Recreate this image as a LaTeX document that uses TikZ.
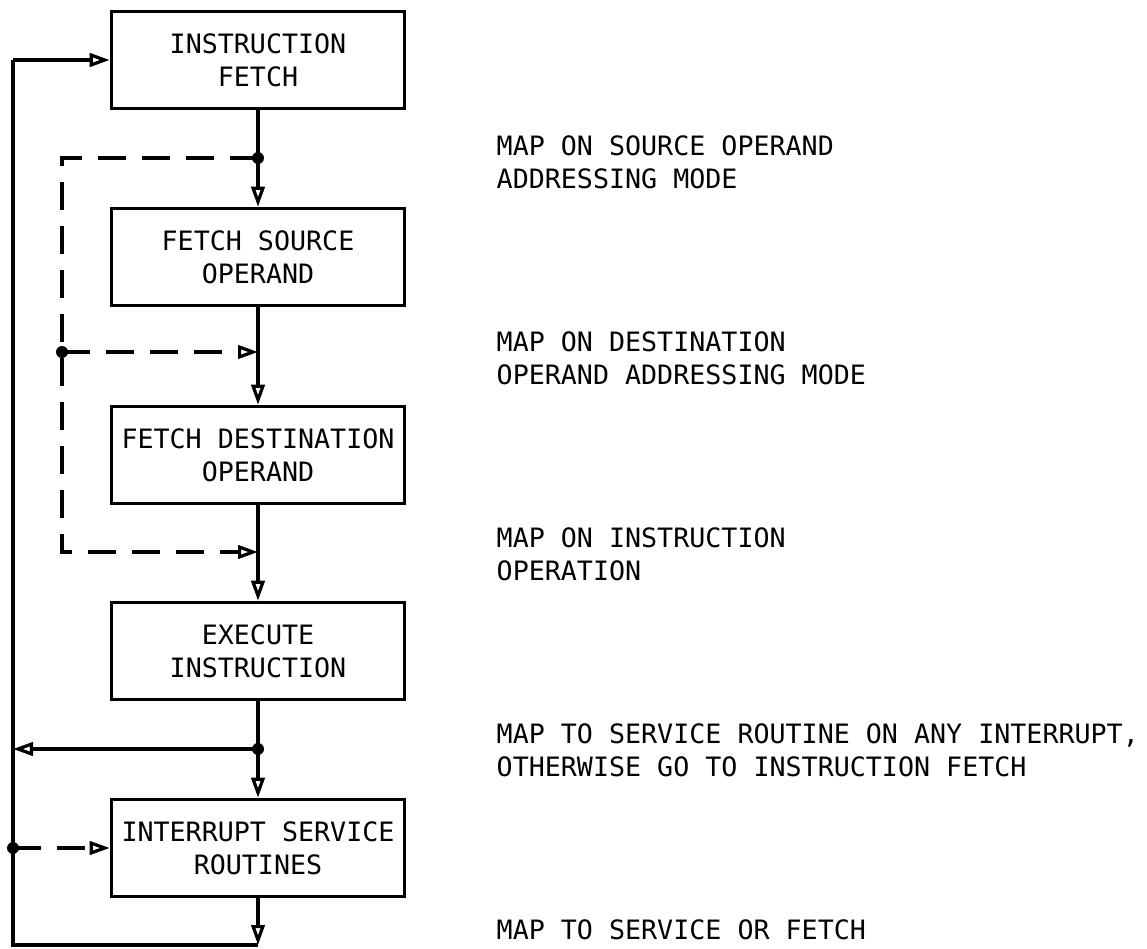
\documentclass[tikz,border=0pt]{standalone}
\usepackage{fontspec}
\setmonofont{DejaVu Sans Mono}
\usetikzlibrary{arrows.meta}

\tikzset{
  stepbox/.style={draw, line width=2.4pt, minimum width=220pt, minimum height=73pt,
    align=center, inner sep=0pt},
  flow/.style={line width=2.4pt, -{Triangle[open, length=15pt, width=10pt]}},
  mapflow/.style={flow, dash pattern=on 21pt off 12pt},
  maplabel/.style={anchor=west, align=left},
  joindot/.style={fill=black},
}

\begin{document}
\begin{tikzpicture}[x=0.75pt, y=-0.75pt,
    font=\ttfamily\fontsize{20}{25}\selectfont]
  \useasboundingbox (0,0) rectangle (1147,949);
  % boxes
  \node[stepbox] (fetch) at (258,60)  {INSTRUCTION\\FETCH};
  \node[stepbox] (src)   at (258,257) {FETCH SOURCE\\OPERAND};
  \node[stepbox] (dst)   at (258,455) {FETCH DESTINATION\\OPERAND};
  \node[stepbox] (exec)  at (258,651) {EXECUTE\\INSTRUCTION};
  \node[stepbox] (isr)   at (258,848) {INTERRUPT SERVICE\\ROUTINES};
  % junctions on the main line
  \coordinate (srcjoin) at (258,158);
  \coordinate (dstjoin) at (258,352);
  \coordinate (exejoin) at (258,552);
  \coordinate (intjoin) at (258,749);
  \coordinate (retjoin) at (258,945);
  % dashed return path
  \coordinate (dtop) at (62,158);
  \coordinate (dmid) at (62,352);
  \coordinate (dbot) at (62,552);
  % outer loop
  \coordinate (ltop) at (13,60);
  \coordinate (lint) at (13,749);
  \coordinate (lisr) at (13,848);
  \coordinate (lbot) at (13,945);
  % main flow
  \draw[flow] (fetch) -- (src);
  \draw[flow] (src) -- (dst);
  \draw[flow] (dst) -- (exec);
  \draw[flow] (exec) -- (isr);
  \draw[flow] (isr) -- (retjoin);
  \draw[line width=2.4pt] (retjoin) -- (lbot) -- (ltop);
  \draw[flow] (ltop) -- (fetch.west);
  \draw[flow] (intjoin) -- (lint);
  % mapping on addressing modes
  \draw[mapflow] (srcjoin) -- (dtop) -- (dbot) -- (exejoin);
  \draw[mapflow] (dmid) -- (dstjoin);
  \draw[mapflow] (lisr) -- (isr.west);
  \fill[joindot] (srcjoin) circle (4.5pt);
  \fill[joindot] (dmid) circle (4.5pt);
  \fill[joindot] (intjoin) circle (4.5pt);
  \fill[joindot] (lisr) circle (4.5pt);
  % annotations
  \node[maplabel] (srcmap) at (492,162) {MAP ON SOURCE OPERAND\\ADDRESSING MODE};
  \node[maplabel] (dstmap) at (492,358) {MAP ON DESTINATION\\OPERAND ADDRESSING MODE};
  \node[maplabel] (opmap)  at (492,554) {MAP ON INSTRUCTION\\OPERATION};
  \node[maplabel] (intmap) at (492,750) {MAP TO SERVICE ROUTINE ON ANY INTERRUPT,\\OTHERWISE GO TO INSTRUCTION FETCH};
  \node[maplabel] (retmap) at (492,930) {MAP TO SERVICE OR FETCH};
\end{tikzpicture}
\end{document}
